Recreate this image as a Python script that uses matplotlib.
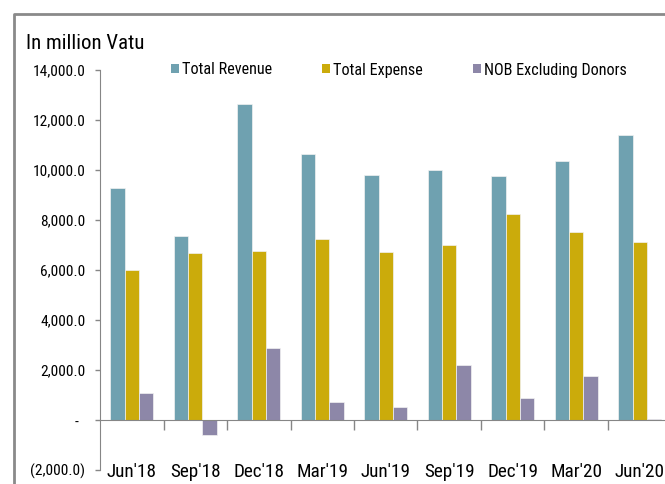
import os
import numpy as np
import matplotlib
matplotlib.use("Agg")
import matplotlib.pyplot as plt
from matplotlib import font_manager
from matplotlib.font_manager import FontProperties
from matplotlib.patches import Rectangle
from matplotlib.lines import Line2D
from matplotlib.ticker import FuncFormatter, FixedLocator

# ---- data ----
categories = ["Jun'18", "Sep'18", "Dec'18", "Mar'19", "Jun'19",
              "Sep'19", "Dec'19", "Mar'20", "Jun'20"]
total_revenue = [9290, 7350, 12630, 10630, 9810, 10010, 9760, 10370, 11400]
total_expense = [6000, 6670, 6780, 7240, 6720, 6990, 8230, 7510, 7140]
nob_excl_donors = [1090, -600, 2880, 730, 530, 2210, 880, 1760, 60]
series_names = ["Total Revenue", "Total Expense", "NOB Excluding Donors"]
y_ticks = [-2000, 0, 2000, 4000, 6000, 8000, 10000, 12000, 14000]
title_text = "In million Vatu"

colors = ["#6FA1B0", "#CBAB0B", "#8D87A8"]
grey = "#868686"

# ---- pick a narrow sans font if one exists ----
def pick_font():
    entries = font_manager.fontManager.ttflist
    prefs = ["LiberationSansNarrow-Regular", "NotoSans-SemiCondensed.", "NotoSans-Condensed.",
             "OpenSans-SemiCondensed", "OpenSans_SemiCondensed-Regular", "RobotoCondensed-Regular",
             "Roboto_Condensed-Regular", "OpenSans-CondensedRegular", "DejaVuSansCondensed."]
    for p in prefs:
        for e in entries:
            if p.lower() in os.path.basename(e.fname).lower():
                return FontProperties(fname=e.fname)
    for e in entries:
        b = os.path.basename(e.fname).lower()
        if ("condensed" in b or "narrow" in b) and "bold" not in b and "italic" not in b \
                and "light" not in b and "thin" not in b and "black" not in b and "medium" not in b \
                and "mono" not in b and "serif" not in b and "extra" not in b and "ultra" not in b:
            return FontProperties(fname=e.fname)
    for fam in ["Liberation Sans", "Lato", "DejaVu Sans"]:
        try:
            path = font_manager.findfont(FontProperties(family=fam), fallback_to_default=False)
            return FontProperties(fname=path)
        except Exception:
            continue
    return FontProperties()

base_fp = pick_font()

W, H = 665, 484
fig = plt.figure(figsize=(W / 100, H / 100), dpi=100)
fig.patch.set_facecolor("white")
renderer = fig.canvas.get_renderer()

def fitted(s, target_px):
    fp = base_fp.copy()
    fp.set_size(10)
    w, h, d = renderer.get_text_width_height_descent(s, fp, ismath=False)
    fp2 = base_fp.copy()
    fp2.set_size(10 * target_px / w)
    return fp2

fp_title = fitted(title_text, 118)
fp_ytick = fitted("14,000.0", 52)
fp_leg = fitted("NOB Excluding Donors", 143)
fp_cat = fitted("Jun'18", 50)

left_px, right_px, top_px, bottom_px = 100, 671.5, 70, 470
ax = fig.add_axes([left_px / W, 1 - bottom_px / H, (right_px - left_px) / W, (bottom_px - top_px) / H])

x = np.arange(len(categories))
w = 0.225
for i, (vals, c) in enumerate(zip([total_revenue, total_expense, nob_excl_donors], colors)):
    ax.bar(x + (i - 1) * w, vals, width=w, color=c, edgecolor="#f2f2f2", linewidth=0.5, zorder=2)

ax.set_xlim(-0.5, len(categories) - 0.5)
ax.set_ylim(-2000, 14000)

for s in ["top", "right"]:
    ax.spines[s].set_visible(False)
ax.spines["left"].set_color(grey)
ax.spines["bottom"].set_color(grey)
ax.spines["bottom"].set_position(("data", 0))

# boundary ticks on zero axis
ax.xaxis.set_major_locator(FixedLocator(np.arange(0.5, len(categories) - 0.5, 1.0)))
ax.tick_params(axis="x", direction="out", length=7.2, color=grey, labelbottom=False, width=1.0)

def yfmt(v, pos):
    if v == 0:
        return "-  "
    if v < 0:
        return "({:,.1f})".format(-v)
    return "{:,.1f}".format(v)

ax.set_yticks(y_ticks)
ax.yaxis.set_major_formatter(FuncFormatter(yfmt))
ax.tick_params(axis="y", direction="out", length=3.5, color=grey, pad=7, width=1.0)
for lab in ax.get_yticklabels():
    lab.set_fontproperties(fp_ytick)

# category labels at bottom
sec = ax.secondary_xaxis(0)
sec.set_xticks(x)
sec.set_xticklabels(categories)
sec.tick_params(axis="x", length=0, pad=-5)
for lab in sec.get_xticklabels():
    lab.set_fontproperties(fp_cat)
sec.spines["bottom"].set_visible(False)

# title
fig.text(26.5 / W, 1 - 49 / H, title_text, fontproperties=fp_title, ha="left", va="baseline")

# legend
leg_px = fp_leg.get_size_in_points() * 100 / 72
handles = [Rectangle((0, 0), 1, 1, facecolor=c, edgecolor="none") for c in colors]
fig.legend(handles, series_names, loc="center left", bbox_to_anchor=(171 / W, 1 - 70 / H),
           ncol=3, frameon=False, prop=fp_leg, handlelength=8 / leg_px, handleheight=8 / leg_px,
           handletextpad=3 / leg_px, columnspacing=50 / leg_px, borderpad=0, borderaxespad=0)

# outer chart frame (partially visible)
fig.add_artist(Line2D([14 / W, 14 / W, 1.05], [-0.05, 1 - 13.5 / H, 1 - 13.5 / H],
                      transform=fig.transFigure, color="#8a8a8a", linewidth=2.0))

fig.savefig("out.png", dpi=100)
